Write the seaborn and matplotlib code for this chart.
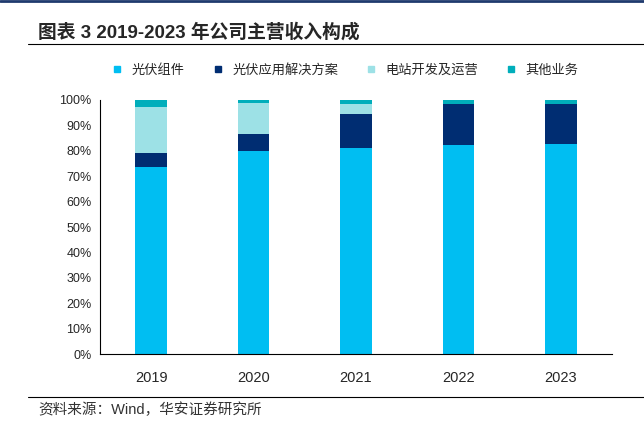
import numpy as np
import pandas as pd
import matplotlib
matplotlib.use("Agg")
import matplotlib.pyplot as plt
import seaborn as sns
from matplotlib.lines import Line2D

years = ["2019", "2020", "2021", "2022", "2023"]
modules = [73.7, 80.0, 81.2, 82.3, 82.8]
solutions = [5.3, 6.6, 13.3, 16.2, 15.7]
stations = [18.4, 12.3, 3.8, 0.1, 0.1]
others = [2.6, 1.1, 1.7, 1.4, 1.4]

series_names = ["光伏组件", "光伏应用解决方案", "电站开发及运营", "其他业务"]
colors = ["#00BEF2", "#002D72", "#9DE1E6", "#00AEBB"]

sns.set_style("white")
plt.rcParams["font.family"] = ["Liberation Sans", "Noto Sans CJK SC", "DejaVu Sans"]

df = pd.DataFrame({"year": years, "s1": modules, "s2": solutions, "s3": stations, "s4": others})
cum = df[["s1", "s2", "s3", "s4"]].cumsum(axis=1)

fig = plt.figure(figsize=(6.44, 4.23), dpi=100)
ax = fig.add_axes([100 / 644, 69 / 423, 512 / 644, 254 / 423])

# draw from the top layer down so each shorter bar covers the one behind
for col, c in zip(["s4", "s3", "s2", "s1"], colors[::-1]):
    sns.barplot(x=df["year"], y=cum[col], color=c, width=0.31, ax=ax,
                saturation=1, linewidth=0, edgecolor=c)

ax.set_ylim(0, 100)
ax.set_xlim(-0.5, 4.5)
ax.set_yticks(np.arange(0, 101, 10))
ax.set_yticklabels([f"{v}%" for v in range(0, 101, 10)], fontsize=9)
ax.set_xticks(np.arange(-0.5, 5, 1))
ax.set_xticklabels([])
ax.set_xticks(range(5), minor=True)
ax.set_xticklabels(years, minor=True, fontsize=10.5)
ax.tick_params(axis="x", which="minor", length=0, pad=12)
ax.tick_params(axis="x", which="major", length=5, direction="out", color="black")
ax.tick_params(axis="y", length=4, direction="out", color="black", pad=2)
ax.set_xlabel("")
ax.set_ylabel("")
for s in ["top", "right"]:
    ax.spines[s].set_visible(False)
for s in ["left", "bottom"]:
    ax.spines[s].set_color("black")
    ax.spines[s].set_linewidth(0.8)

handles = [Line2D([0], [0], marker="s", linestyle="", markersize=5,
                  markerfacecolor=c, markeredgecolor=c) for c in colors]
fig.legend(handles, series_names, loc="center", bbox_to_anchor=(0.53, 1 - 70 / 423),
           ncol=4, frameon=False, handletextpad=0.1, columnspacing=1.5,
           prop={"family": ["Noto Sans CJK SC"], "size": 9.5})

# header and footer
fig.add_artist(Line2D([0, 1], [1 - 1 / 423, 1 - 1 / 423], color="#1F3A6E", lw=2))
fig.text(38 / 644, 1 - 32 / 423, "图表 3 2019-2023 年公司主营收入构成", fontsize=13.5,
         fontweight="bold", va="center", family=["Liberation Sans", "Noto Sans CJK SC"])
fig.add_artist(Line2D([28 / 644, 1], [1 - 44 / 423, 1 - 44 / 423], color="black", lw=0.8))
fig.add_artist(Line2D([28 / 644, 1], [1 - 397 / 423, 1 - 397 / 423], color="black", lw=0.8))
fig.text(38 / 644, 1 - 410 / 423, "资料来源：Wind，华安证券研究所", fontsize=10.5, va="center",
         color="#333333", family=["Liberation Sans", "Noto Sans CJK SC"])

fig.savefig("out.png", dpi=100)
